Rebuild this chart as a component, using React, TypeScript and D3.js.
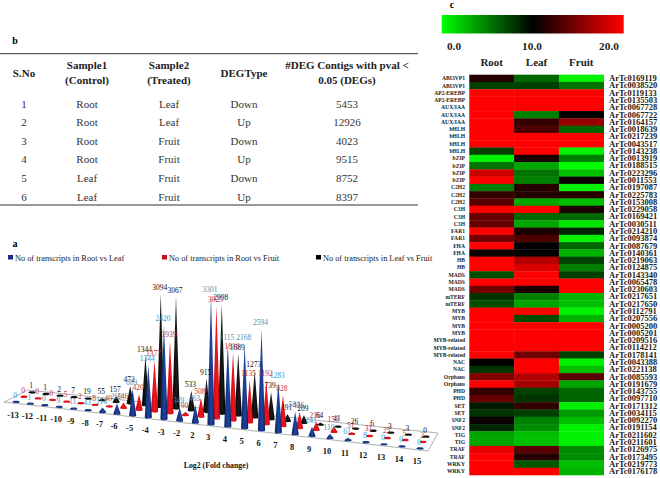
import { useEffect, useRef } from "react";
import * as d3 from "d3";

// table b
const tableHead = [["S.No"], ["Sample1", "(Control)"], ["Sample2", "(Treated)"], ["DEGType"], ["#DEG Contigs with pval <", "0.05 (DEGs)"]];
const sNo = ["1", "2", "3", "4", "5", "6"];
const sample1 = ["Root", "Root", "Root", "Root", "Leaf", "Leaf"];
const sample2 = ["Leaf", "Leaf", "Fruit", "Fruit", "Fruit", "Fruit"];
const degType = ["Down", "Up", "Down", "Up", "Down", "Up"];
const degCount = ["5453", "12926", "4023", "9515", "8752", "8397"];

// cones a
const foldChange = ["-13", "-12", "-11", "-10", "-9", "-8", "-7", "-6", "-5", "-4", "-3", "-2", "2", "3", "4", "5", "6", "7", "8", "9", "10", "11", "12", "13", "14", "15"];
const rootLeaf = [0, 1, 0, 9, 11, 43, 114, 269, 689, 1344, 2420, 349, 463, 3301, 2115, 2168, 2594, 1283, 584, 241, 110, 61, 8, 0, 0, 0];
const rootFruit = [0, 0, 0, 5, 2, 8, 40, 146, 420, 1377, 1939, 90, 508, 3025, 1816, 1135, 1192, 828, 426, 216, 150, 51, 31, 25, 5, 2];
const leafFruit = [1, 1, 2, 7, 19, 55, 157, 472, 1344, 3094, 3067, 533, 915, 2998, 1689, 1273, 739, 191, 209, 64, 41, 26, 6, 3, 3, 0];
const legendNames = ["No of transcripts in Root vs Leaf", "No of transcripts in Root vs Fruit", "No of transcripts in Leaf vs Fruit"];

// heatmap c
const families = ["ABI3VP1", "ABI3VP1", "AP2-EREBP", "AP2-EREBP", "AUX/IAA", "AUX/IAA", "AUX/IAA", "bHLH", "bHLH", "bHLH", "bHLH", "bZIP", "bZIP", "bZIP", "bZIP", "C2H2", "C2H2", "C2H2", "C3H", "C3H", "C3H", "FAR1", "FAR1", "FHA", "FHA", "HB", "HB", "MADS", "MADS", "MADS", "mTERF", "mTERF", "MYB", "MYB", "MYB", "MYB", "MYB-related", "MYB-related", "MYB-related", "NAC", "NAC", "Orphans", "Orphans", "PHD", "PHD", "SET", "SET", "SNF2", "SNF2", "TIG", "TIG", "TRAF", "TRAF", "WRKY", "WRKY"];
const contigs = ["0169119", "0038520", "0119133", "0135503", "0067728", "0067722", "0164157", "0018639", "0217239", "0043517", "0143238", "0013919", "0188515", "0223296", "0011553", "0197087", "0225783", "0153008", "0229058", "0169421", "0030511", "0214210", "0093874", "0087679", "0140361", "0219063", "0124875", "0143340", "0065478", "0230603", "0217651", "0217650", "0112791", "0207556", "0005200", "0005201", "0209516", "0114212", "0178141", "0043388", "0221138", "0085593", "0191679", "0143755", "0097710", "0171312", "0034115", "0092270", "0191154", "0211602", "0211601", "0126975", "0173495", "0219773", "0176178"];
const tissues = ["Root", "Leaf", "Fruit"];
const rootExpr = [11.5, 7.5, 20, 20, 20, 20, 20, 20, 20, 20, 7.5, 0.5, 5.5, 18, 20, 5, 12, 13.5, 20, 14, 14, 20, 14.5, 20, 10.5, 20, 20, 7, 20, 14.5, 8, 7, 20, 20, 20, 20, 20, 20, 20, 10, 8, 15, 20, 12, 14, 9, 8, 10.5, 8.5, 3.5, 3.5, 19, 20, 20, 20];
const leafExpr = [6, 7.5, 20, 20, 20, 5, 12, 13, 20, 20, 20, 11, 3.5, 5.5, 5, 11.5, 11.5, 3.5, 20, 6, 3.5, 11, 13, 10, 10, 17, 18.5, 20, 20, 11, 5, 3.5, 20, 7, 20, 20, 20, 20, 14.5, 20, 20, 17, 16.5, 7.5, 8, 12, 7.5, 5, 4.5, 2.5, 2.5, 13.5, 11.5, 6.5, 20];
const fruitExpr = [0.5, 5.5, 20, 20, 20, 10, 16, 6, 20, 20, 0.5, 5, 0, 2.5, 10.5, 0.5, 11.5, 2.5, 11, 6, 1, 8.5, 0.5, 6, 3, 7.5, 5, 7.5, 20, 20, 3, 2.5, 0.5, 3, 20, 20, 20, 20, 7.5, 0.5, 2.5, 13.5, 3.5, 6, 6, 0.5, 4, 2.5, 0.5, 0.5, 0.5, 4.5, 4.5, 2.5, 3];
const colorTicks = [0, 10, 20];

const SERIF = "'Liberation Serif', 'Times New Roman', serif";

export default function App() {
  const ref = useRef<SVGSVGElement>(null);

  useEffect(() => {
    const svg = d3.select(ref.current);
    svg.selectAll("*").remove();
    svg.style("font-family", SERIF);

    const panelLabel = (t: string, x: number, y: number) =>
      svg.append("text").attr("x", x).attr("y", y).attr("text-anchor", "middle").attr("font-weight", "bold").attr("font-size", 10).text(t);

    panelLabel("b", 15, 44);
    panelLabel("a", 15, 247);
    panelLabel("c", 452, 8);

    // ---- table
    const table = svg.append("g");
    const colX = d3.scaleOrdinal<number, number>().domain([0, 1, 2, 3, 4]).range([24, 87, 169, 244, 347]);
    const rowY = d3.scaleLinear().domain([0, 5]).range([107.5, 200.5]);
    [53.7, 205].forEach((y) => {
      table.append("line").attr("x1", 0).attr("x2", 418).attr("y1", y).attr("y2", y).attr("stroke", "#333").attr("stroke-width", 1);
    });
    tableHead.forEach((lines, c) => {
      lines.forEach((line, i) => {
        const y = lines.length === 1 ? 76.5 : 68.5 + i * 15.7;
        table.append("text").attr("x", colX(c)).attr("y", y).attr("text-anchor", "middle").attr("font-weight", "bold").attr("font-size", 11).attr("fill", "#222").text(line);
      });
    });
    [sNo, sample1, sample2, degType, degCount].forEach((col, c) => {
      table
        .selectAll(null)
        .data(col)
        .enter()
        .append("text")
        .attr("x", colX(c))
        .attr("y", (_, i) => rowY(i))
        .attr("text-anchor", "middle")
        .attr("font-size", 11)
        .attr("fill", "#333")
        .text((d) => d);
    });

    // ---- legend of a
    const legendColors = ["#14307a", "#c8101a", "#000"];
    const legendX = d3.scaleOrdinal<number, number>().domain([0, 1, 2]).range([8, 162, 316]);
    legendNames.forEach((name, i) => {
      svg.append("rect").attr("x", legendX(i)).attr("y", 255).attr("width", 5).attr("height", 4.5).attr("fill", legendColors[i]);
      svg.append("text").attr("x", legendX(i) + 7).attr("y", 260.5).attr("font-size", 8.3).attr("fill", "#222").text(name);
    });

    // ---- cones
    const defs = svg.append("defs");
    const shade = (id: string, edge: string, mid: string) => {
      const g = defs.append("linearGradient").attr("id", id);
      g.append("stop").attr("offset", "0%").attr("stop-color", edge);
      g.append("stop").attr("offset", "55%").attr("stop-color", mid);
      g.append("stop").attr("offset", "100%").attr("stop-color", edge);
    };
    shade("cone-blue", "#0d2260", "#1d45a0");
    shade("cone-red", "#c00810", "#f01520");
    shade("cone-black", "#000", "#1a1a1a");

    const idx = foldChange.map((_, i) => i);
    // perspective: ticks get wider to the right
    const xFront = d3.scaleLinear().domain([0, 7, 13, 19, 25]).range([16, 117, 211, 312, 420]);
    const yFront = d3.scaleLinear().domain([16, 420]).range([402, 448.5]);
    const depthX = d3.scaleLinear().domain([0, 25]).range([1, 0.375]);
    const depthY = d3.scaleLinear().domain([0, 25]).range([1, 1.25]);
    const heightScale = d3.scaleLinear().domain([0, 3500]).range([0, 136]);

    const floor = d3.line()([[4, 402], [28, 390], [438, 433], [428, 451]]);
    svg.append("path").attr("d", floor + "Z").attr("fill", "#fff").attr("stroke", "#9a9a9a").attr("stroke-width", 0.8);

    const series = [
      { values: leafFruit, dx: 16, dy: -9.5, k: 0.94, fill: "url(#cone-black)", label: "#111" },
      { values: rootFruit, dx: 8, dy: -5.2, k: 0.96, fill: "url(#cone-red)", label: "#b8323c" },
      { values: rootLeaf, dx: 0, dy: 0, k: 1, fill: "url(#cone-blue)", label: "#3f93c0" },
    ];
    const baseX = (s: (typeof series)[number], i: number) => xFront(i) + s.dx * depthX(i);
    const baseY = (s: (typeof series)[number], i: number) => yFront(xFront(i)) + s.dy * depthY(i);

    series.forEach((s) => {
      svg
        .append("g")
        .selectAll("path")
        .data(idx)
        .enter()
        .append("path")
        .attr("fill", s.fill)
        .attr("d", (i) => {
          const p = d3.path();
          const cx = baseX(s, i);
          const cy = baseY(s, i);
          const rx = 3.6;
          const ry = 1.6;
          const h = heightScale(s.values[i]) * s.k;
          p.moveTo(cx - rx, cy);
          p.lineTo(cx, cy - h);
          p.lineTo(cx + rx, cy);
          p.bezierCurveTo(cx + rx, cy + ry, cx - rx, cy + ry, cx - rx, cy);
          p.moveTo(cx - rx, cy);
          p.bezierCurveTo(cx - rx, cy - ry, cx + rx, cy - ry, cx + rx, cy);
          p.closePath();
          return p.toString();
        });
    });

    series.forEach((s) => {
      svg
        .append("g")
        .selectAll("text")
        .data(idx)
        .enter()
        .append("text")
        .attr("x", (i) => baseX(s, i) - 1)
        .attr("y", (i) => baseY(s, i) - heightScale(s.values[i]) * s.k - 4)
        .attr("text-anchor", "middle")
        .attr("font-size", 7.5)
        .attr("fill", s.label)
        .text((i) => s.values[i]);
    });

    svg
      .append("g")
      .selectAll("text")
      .data(idx)
      .enter()
      .append("text")
      .attr("x", (i) => xFront(i) - 3)
      .attr("y", (i) => yFront(xFront(i)) + 15.5)
      .attr("text-anchor", "middle")
      .attr("font-size", 8.5)
      .attr("font-weight", "bold")
      .attr("fill", "#111")
      .text((i) => foldChange[i]);

    svg.append("text").attr("x", 216).attr("y", 468).attr("text-anchor", "middle").attr("font-size", 7.8).attr("font-weight", "bold").attr("fill", "#111").text("Log2 (Fold change)");

    // ---- heatmap
    const color = d3.scaleLinear<string>().domain(colorTicks).range(["#00ff00", "#000000", "#ff0000"]);
    const legendScale = d3.scaleLinear().domain([0, 20]).range([441.7, 623.7]);
    const grad = defs.append("linearGradient").attr("id", "heat-legend");
    colorTicks.forEach((t) => {
      grad.append("stop").attr("offset", `${(t / 20) * 100}%`).attr("stop-color", color(t));
    });
    svg.append("rect").attr("x", legendScale(0)).attr("y", 15).attr("width", legendScale(20) - legendScale(0)).attr("height", 18.5).attr("fill", "url(#heat-legend)");

    svg
      .append("g")
      .selectAll("text")
      .data(colorTicks)
      .enter()
      .append("text")
      .attr("x", (d) => [454, 532, 609][colorTicks.indexOf(d)])
      .attr("y", 50)
      .attr("text-anchor", "middle")
      .attr("font-size", 11.3)
      .attr("font-weight", "bold")
      .attr("fill", "#222")
      .text((d) => d.toFixed(1));

    const colBand = d3.scaleBand().domain(tissues).range([469.3, 603.7]);
    const rowBand = d3.scaleBand().domain(contigs).range([74.7, 475]);

    svg
      .append("g")
      .selectAll("text")
      .data(tissues)
      .enter()
      .append("text")
      .attr("x", (d) => colBand(d)! + colBand.bandwidth() / 2)
      .attr("y", 65.5)
      .attr("text-anchor", "middle")
      .attr("font-size", 11)
      .attr("font-weight", "bold")
      .attr("fill", "#222")
      .text((d) => d);

    [rootExpr, leafExpr, fruitExpr].forEach((vals, c) => {
      svg
        .append("g")
        .selectAll("rect")
        .data(vals)
        .enter()
        .append("rect")
        .attr("x", colBand(tissues[c])!)
        .attr("y", (_, i) => rowBand(contigs[i])!)
        .attr("width", colBand.bandwidth() + 0.3)
        .attr("height", rowBand.bandwidth() + 0.3)
        .attr("fill", (d) => color(d));
    });

    svg
      .append("g")
      .selectAll("text")
      .data(families)
      .enter()
      .append("text")
      .attr("x", 465)
      .attr("y", (_, i) => rowBand(contigs[i])! + rowBand.bandwidth() / 2 + 1.9)
      .attr("text-anchor", "end")
      .attr("font-size", 5.6)
      .attr("font-weight", "bold")
      .attr("fill", "#222")
      .text((d) => d);

    svg
      .append("g")
      .selectAll("text")
      .data(contigs)
      .enter()
      .append("text")
      .attr("x", 609)
      .attr("y", (d) => rowBand(d)! + rowBand.bandwidth() / 2 + 2.8)
      .attr("font-size", 8.5)
      .attr("font-weight", "bold")
      .attr("fill", "#222")
      .text((d) => "ArTc" + d);
  }, []);

  return <svg ref={ref} width={660} height={478} style={{ position: "absolute", left: 0, top: 0, background: "#fff" }} />;
}
